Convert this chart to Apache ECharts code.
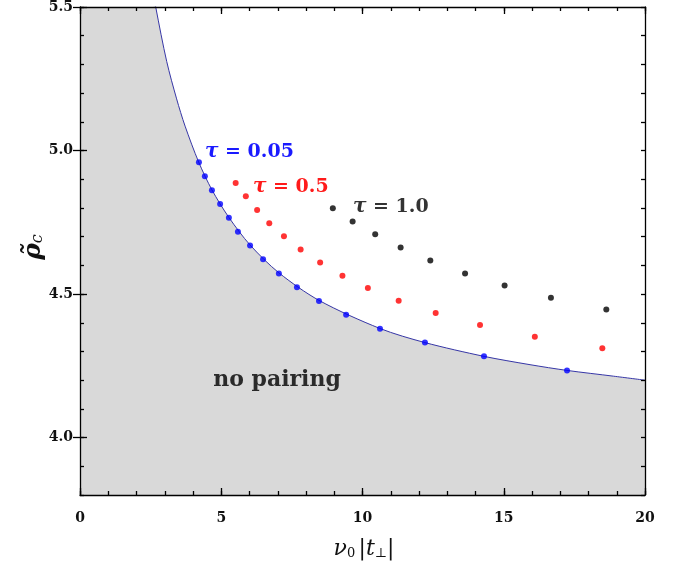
<!DOCTYPE html>
<html>
<head>
<meta charset="utf-8">
<script src="https://cdn.jsdelivr.net/npm/echarts@6/dist/echarts.min.js"></script>
<style>
  html, body { margin: 0; padding: 0; background: #fff; }
  #chart { width: 694px; height: 571px; }
</style>
</head>
<body>
<div id="chart"></div>
<script>
// phase boundary (first point just above the frame)
const boundaryNu = [2.6, 2.68, 3.07, 3.42, 3.72, 4.2, 4.67, 5.27, 6.02, 7.04, 8.46, 10.62, 12.21, 14.3, 15.93, 17.24, 18.88, 20];
const boundaryRho = [5.55, 5.5, 5.31, 5.18, 5.085, 4.96, 4.863, 4.767, 4.671, 4.574, 4.478, 4.38, 4.331, 4.283, 4.254, 4.234, 4.214, 4.2];

// tau = 0.05
const blueNu = [4.21, 4.42, 4.67, 4.96, 5.27, 5.59, 6.02, 6.48, 7.04, 7.68, 8.46, 9.42, 10.62, 12.21, 14.3, 17.24];
const blueRho = [4.959, 4.91, 4.862, 4.814, 4.766, 4.717, 4.669, 4.621, 4.572, 4.524, 4.476, 4.428, 4.379, 4.331, 4.283, 4.234];

// tau = 0.5
const redNu = [5.51, 5.87, 6.27, 6.7, 7.22, 7.81, 8.5, 9.29, 10.19, 11.28, 12.59, 14.16, 16.1, 18.49];
const redRho = [4.887, 4.841, 4.793, 4.747, 4.701, 4.655, 4.61, 4.564, 4.521, 4.477, 4.434, 4.392, 4.351, 4.311];

// tau = 1.0
const blackNu = [8.95, 9.65, 10.45, 11.35, 12.4, 13.63, 15.03, 16.67, 18.63];
const blackRho = [4.799, 4.753, 4.708, 4.662, 4.617, 4.572, 4.53, 4.487, 4.446];

const xMajor = [0, 5, 10, 15, 20];
const yMajor = [4.0, 4.5, 5.0, 5.5];
const yTop = 5.5;

const zip = (a, b) => a.map((v, i) => [v, b[i]]);
const serif = '"DejaVu Serif", "Liberation Serif", serif';
const lineStyle = { color: "#000", width: 1.3 };

const chart = echarts.init(document.querySelector("#chart"));

const xBase = {
  type: "value", min: 0, max: 20, z: 10,
  splitLine: { show: false },
};
const yBase = {
  type: "value", min: 3.8, max: yTop, z: 10,
  splitLine: { show: false },
};

chart.setOption({
  animation: false,
  grid: { left: 80, right: 49, top: 2, bottom: 76 },
  xAxis: [
    {
      ...xBase, position: "bottom", interval: 1,
      axisLine: { onZero: false, lineStyle },
      axisTick: { inside: true, length: 4, lineStyle },
      axisLabel: {
        margin: 16, color: "#111", fontFamily: serif, fontWeight: "bold", fontSize: 14,
        formatter: (v) => (xMajor.includes(Math.round(v)) && Math.abs(v - Math.round(v)) < 1e-6 ? String(Math.round(v)) : ""),
      },
    },
    {
      ...xBase, position: "top", interval: 1,
      axisLine: { onZero: false, lineStyle },
      axisTick: { inside: true, length: 4, lineStyle },
      axisLabel: { show: false },
    },
    {
      ...xBase, position: "bottom", interval: 5,
      axisLine: { show: false },
      axisTick: { inside: true, length: 7, lineStyle },
      axisLabel: { show: false },
    },
    {
      ...xBase, position: "top", interval: 5,
      axisLine: { show: false },
      axisTick: { inside: true, length: 7, lineStyle },
      axisLabel: { show: false },
    },
  ],
  yAxis: [
    {
      ...yBase, position: "left", interval: 0.1,
      axisLine: { onZero: false, lineStyle },
      axisTick: { inside: true, length: 4, lineStyle },
      axisLabel: {
        margin: 7, color: "#111", fontFamily: serif, fontWeight: "bold", fontSize: 14,
        formatter: (v) => (Math.abs(v * 2 - Math.round(v * 2)) < 1e-6 ? v.toFixed(1) : ""),
      },
    },
    {
      ...yBase, position: "right", interval: 0.1,
      axisLine: { onZero: false, lineStyle },
      axisTick: { inside: true, length: 4, lineStyle },
      axisLabel: { show: false },
    },
    {
      ...yBase, position: "left",
      axisLine: { show: false },
      axisTick: { inside: true, length: 7, lineStyle, customValues: yMajor },
      axisLabel: { show: false },
    },
    {
      ...yBase, position: "right",
      axisLine: { show: false },
      axisTick: { inside: true, length: 7, lineStyle, customValues: yMajor },
      axisLabel: { show: false },
    },
  ],
  series: [
    {
      // shaded block left of where the boundary enters the frame
      type: "line",
      data: [[0, yTop], [boundaryNu[1], yTop]],
      showSymbol: false,
      lineStyle: { width: 0 },
      areaStyle: { color: "#d9d9d9", opacity: 1, origin: "start" },
      z: 1,
    },
    {
      type: "line",
      data: zip(boundaryNu, boundaryRho),
      smooth: 0.3,
      showSymbol: false,
      lineStyle: { color: "#3636a6", width: 1 },
      areaStyle: { color: "#d9d9d9", opacity: 1, origin: "start" },
      z: 2,
    },
    {
      type: "scatter", data: zip(blueNu, blueRho),
      symbolSize: 6, itemStyle: { color: "#0000ff" }, z: 3,
    },
    {
      type: "scatter", data: zip(redNu, redRho),
      symbolSize: 6, itemStyle: { color: "#ff0000" }, z: 3,
    },
    {
      type: "scatter", data: zip(blackNu, blackRho),
      symbolSize: 6, itemStyle: { color: "#000" }, z: 3,
    },
  ],
  graphic: [
    {
      type: "text", x: 205, y: 152, z: 20,
      style: {
        text: "{t|τ} = 0.05", fill: "#1a1aff", font: `bold 19px ${serif}`,
        verticalAlign: "middle",
        rich: { t: { fontStyle: "italic", fontWeight: "bold", fontSize: 20, fontFamily: serif, fill: "#1a1aff" } },
      },
    },
    {
      type: "text", x: 253, y: 187, z: 20,
      style: {
        text: "{t|τ} = 0.5", fill: "#ff1a1a", font: `bold 19px ${serif}`,
        verticalAlign: "middle",
        rich: { t: { fontStyle: "italic", fontWeight: "bold", fontSize: 20, fontFamily: serif, fill: "#ff1a1a" } },
      },
    },
    {
      type: "text", x: 353, y: 207, z: 20,
      style: {
        text: "{t|τ} = 1.0", fill: "#333", font: `bold 19px ${serif}`,
        verticalAlign: "middle",
        rich: { t: { fontStyle: "italic", fontWeight: "bold", fontSize: 20, fontFamily: serif, fill: "#333" } },
      },
    },
    {
      type: "text", x: 277, y: 380, z: 20,
      style: {
        text: "no pairing", fill: "#2a2a2a", font: `bold 22px ${serif}`,
        align: "center", verticalAlign: "middle",
      },
    },
    {
      type: "text", x: 364, y: 549, z: 20,
      style: {
        text: "{v|ν}{s|0} {u||}{v|t}{s|⊥}{u||}",
        align: "center", verticalAlign: "middle", fill: "#111",
        rich: {
          v: { fontSize: 22, fontStyle: "italic", fontFamily: serif, fill: "#111" },
          u: { fontSize: 22, fontFamily: serif, fill: "#111" },
          s: { fontSize: 13, fontFamily: serif, fill: "#111", verticalAlign: "bottom", padding: [10, 0, 0, 0] },
        },
      },
    },
    {
      type: "text", x: 33, y: 247, z: 20, rotation: Math.PI / 2,
      style: {
        text: "{r|ρ̃}{s|c}",
        align: "center", verticalAlign: "middle", fill: "#111",
        rich: {
          r: { fontSize: 25, fontStyle: "italic", fontWeight: "bold", fontFamily: serif, fill: "#111" },
          s: { fontSize: 16, fontStyle: "italic", fontFamily: serif, fill: "#111", verticalAlign: "bottom", padding: [8, 0, 0, 0] },
        },
      },
    },
  ],
});
</script>
</body>
</html>
